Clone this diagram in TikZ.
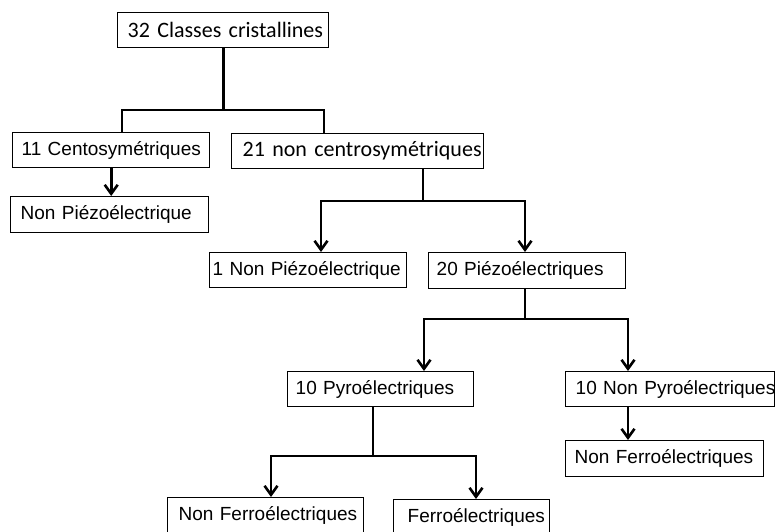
\documentclass[tikz,border=0pt]{standalone}
\usepackage{fontspec}
\newfontfamily\arialf{Liberation Sans}
\newfontfamily\calf{Carlito}
\usetikzlibrary{arrows.meta}
\begin{document}
\begin{tikzpicture}[x=1pt,y=1pt,
  bx/.style={draw, line width=1.4pt, anchor=north west, inner xsep=0pt, inner ysep=0pt,
             align=left, font=\fontsize{19}{22}\arialf},
  cb/.style={bx, font=\fontsize{22}{26}\calf},
  conn/.style={line width=2.6pt},
  arr/.style={conn, -{Straight Barb[length=9pt,width=13pt]}},
  arr2/.style={conn, {Straight Barb[length=9pt,width=13pt]}-{Straight Barb[length=9pt,width=13pt]}}]
\useasboundingbox (0,0) rectangle (778,531);
\clip (0,0) rectangle (778,531);
% boxes
\node[cb, text width=211pt, minimum height=35pt] (b1) at (117,519) {\mbox{\hspace*{10pt}32 Classes cristallines}};
\node[bx, text width=197pt, minimum height=35pt] (b2) at (12,399) {\mbox{\hspace*{9pt}11 Centosymétriques}};
\node[cb, text width=252pt, minimum height=35pt] (b3) at (231,398) {\mbox{\hspace*{11pt}21 non centrosymétriques}};
\node[bx, text width=198pt, minimum height=36pt] (b4) at (10,335) {\mbox{\hspace*{10pt}Non Piézoélectrique}};
\node[bx, text width=197pt, minimum height=35pt] (b5) at (209,279) {\mbox{\hspace*{3pt}1 Non Piézoélectrique}};
\node[bx, text width=197pt, minimum height=36pt] (b6) at (428,279) {\mbox{\hspace*{8pt}20 Piézoélectriques}};
\node[bx, text width=186pt, minimum height=35pt] (b7) at (287,160) {\mbox{\hspace*{8pt}10 Pyroélectriques}};
\node[bx, text width=209pt, minimum height=35pt] (b8) at (565,160) {\mbox{\hspace*{10pt}10 Non Pyroélectriques}};
\node[bx, text width=198pt, minimum height=36pt] (b9) at (565,91) {\mbox{\hspace*{9pt}Non Ferroélectriques}};
\node[bx, text width=196pt, minimum height=36pt] (b10) at (167,34) {\mbox{\hspace*{11pt}Non Ferroélectriques}};
\node[bx, text width=156pt, minimum height=36pt] (b11) at (393,32) {\mbox{\hspace*{14pt}Ferroélectriques}};
% junction points
\coordinate (j1l) at (122,421);
\coordinate (j1r) at (324,421);
\coordinate (j2m) at (423,330);
\coordinate (j2l) at (321,330);
\coordinate (j2r) at (525,330);
\coordinate (j3m) at (525,212);
\coordinate (j3l) at (424,212);
\coordinate (j3r) at (628,212);
\coordinate (j4m) at (373,75);
\coordinate (j4l) at (271,75);
\coordinate (j4r) at (476,75);
% connectors
\draw[conn] (b1.south) -- (b1.south |- j1l);
\draw[conn] (j1l |- b2.north) -- (j1l) -- (j1r) -- (j1r |- b3.north);
\draw[arr] (b2.south) -- (b2.south |- b4.north);
\draw[conn] (j2m |- b3.south) -- (j2m);
\draw[arr2] (j2l |- b5.north) -- (j2l) -- (j2r) -- (j2r |- b6.north);
\draw[conn] (j3m |- b6.south) -- (j3m);
\draw[arr2] (j3l |- b7.north) -- (j3l) -- (j3r) -- (j3r |- b8.north);
\draw[conn] (j4m |- b7.south) -- (j4m);
\draw[arr2] (j4l |- b10.north) -- (j4l) -- (j4r) -- (j4r |- b11.north);
\draw[arr] (j3r |- b8.south) -- (j3r |- b9.north);
\end{tikzpicture}
\end{document}
